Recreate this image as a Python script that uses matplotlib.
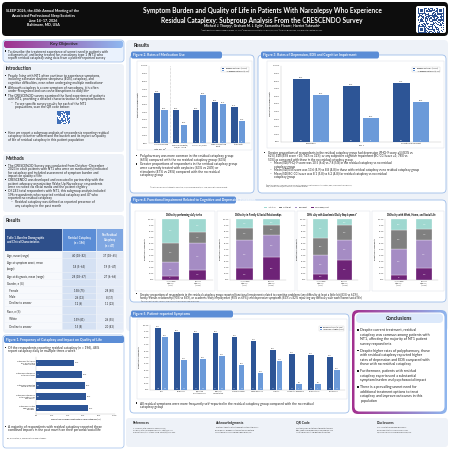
import hashlib

import matplotlib
matplotlib.use("Agg")
import matplotlib.pyplot as plt
import numpy as np
from matplotlib.colors import LinearSegmentedColormap, ListedColormap
from matplotlib.patches import FancyBboxPatch, Rectangle

plt.rcParams['font.family'] = ['Lato', 'DejaVu Sans']

W = H = 450
DARK = "#2d5596"
LIGHT = "#6b9ad9"
BLUE = "#5b8dd6"
PANEL = "#eef2f8"

# ---------------- data ----------------
groups = ["Residual Cataplexy (n=196)", "No Residual Cataplexy (n=47)"]
n_res, n_nores = 196, 47

tab_rows = ["Age, mean (range)", "Age at symptom onset, mean\n(range)", "Age at diagnosis, mean (range)",
            "Gender, n (%)", "   Female", "   Male", "   Decline to answer",
            "Race, n (%)", "   White", "   Decline to answer"]
tab_res = ["40 (18–82)", "18 (5–65)", "28 (18–67)", "", "158 (75)", "26 (13)", "12 (6)",
           "", "159 (81)", "15 (8)"]
tab_nores = ["37 (18–65)", "19 (5–47)", "27 (6–66)", "", "28 (60)", "8 (17)", "11 (23)",
             "", "26 (55)", "20 (43)"]

freq_labels = ["Cataplexy ≥1 time a\nday or multiple\ntimes a week",
               "Cataplexy interfered\nwith daily tasks",
               "Cataplexy impacted\nsocial activities",
               "Cataplexy interfered\nwith relationships\nand family",
               "Cataplexy limited\nwork/school\nactivities"]
freq_vals = [48, 58, 62, 63, 66]

med_labels = ["Any prescribed\ncataplexy Rx$^a$", "Sodium oxybate/\nLXB/ON-SXB", "Any SNRI/SSRI",
              "Wake-promoting\nagent", "Stimulants"]
med_res = [65, 43, 43, 53, 47]
med_nores = [43, 24, 62, 51, 28]

comorb_labels = ["Depression", "EDS$^a$", "Cognitive impairment"]
comorb_res = [83, 74, 78]
comorb_nores = [62, 32, 53]

impair_levels = ["Very much/A lot", "Somewhat", "A little bit", "Not at all"]
impair_colors = ["#6e2377", "#a58cc4", "#808080", "#9fd8d0"]
impair_titles = ["Difficulty performing daily tasks",
                 "Difficulty in Family & Social Relationships",
                 "Difficulty with Academic/Daily Employment$^a$",
                 "Difficulty with Work, Home, and Social Life"]
impair_bars = ["No residual\ncataplexy\n(n=47)", "Residual\ncataplexy\n(n=196)"]
impair_nores = [[7, 22, 32, 39], [19, 46, 21, 14], [10, 31, 28, 31], [9, 42, 31, 18]]
impair_res = [[17, 44, 17, 22], [38, 36, 16, 10], [33, 33, 24, 10], [19, 47, 17, 17]]

sym_labels = ["EDS", "Brain fog", "Disrupted\nnighttime sleep", "Difficulty\nconcentrating",
              "Memory issues", "Sleep paralysis", "Anxiety", "Automatic behaviors",
              "Hallucinations", "Depression"]
sym_res = [96, 89, 87, 87, 81, 75, 62, 55, 54, 51]
sym_nores = [81, 46, 48, 53, 39, 26, 44, 9, 9, 31]

fig = plt.figure(figsize=(4.5, 4.5), dpi=100)
fig.patch.set_facecolor("white")


# ---------------- helpers (pixel coords, origin top-left) ----------------
def box(x0, y0, x1, y1, fc, ec="none", lw=0.5, r=3, z=1):
    p = FancyBboxPatch((x0 / W, 1 - y1 / H), (x1 - x0) / W, (y1 - y0) / H,
                       boxstyle=f"round,pad=0,rounding_size={r / W}",
                       transform=fig.transFigure, fc=fc, ec=ec, lw=lw, zorder=z)
    fig.add_artist(p)
    return p


def txt(x, y, s, size=2.3, color="#222222", weight="normal", ha="left", va="top",
        ls=1.12, z=6):
    return fig.text(x / W, 1 - y / H, s, fontsize=size, color=color, weight=weight,
                    ha=ha, va=va, linespacing=ls, zorder=z)


def lines(x, y, s, size=2.3, pitch=None, **kw):
    # one text per line so the spacing is exact
    pitch = pitch or size * 1.389 * 1.08
    for i, ln in enumerate(s.split("\n")):
        txt(x, y + i * pitch, ln, size=size, **kw)
    return y + pitch * (s.count("\n") + 1)


def bullets(x, y, items, size=2.3, pitch=None, gap=1.5, sq=1.3):
    # items: list of (indent_level, text)
    pitch = pitch or size * 1.389 * 1.08
    for lvl, s in items:
        if lvl == 0:
            top = y + pitch * 0.42 - sq / 2
            fig.add_artist(Rectangle((x / W, 1 - (top + sq) / H), sq / W, sq / H,
                                     transform=fig.transFigure, fc="#222222", ec="none", zorder=6))
            y = lines(x + 3.5, y, s, size, pitch)
        else:
            txt(x + 6, y, "–", size=size)
            y = lines(x + 10, y, s, size, pitch)
        y += gap
    return y


def axes_px(x0, y0, x1, y1, z=4):
    return fig.add_axes([x0 / W, 1 - y1 / H, (x1 - x0) / W, (y1 - y0) / H], zorder=z)


def gradient(x0, y0, x1, y1, c0, c1, r=3, z=2):
    ax = axes_px(x0, y0, x1, y1, z=z)
    cmap = LinearSegmentedColormap.from_list("g", [c0, c1])
    w, h = x1 - x0, y1 - y0
    im = ax.imshow(np.linspace(0, 1, 128)[None, :], aspect="auto", cmap=cmap,
                   extent=(0, w, 0, h))
    clip = FancyBboxPatch((0, 0), w, h, boxstyle=f"round,pad=0,rounding_size={r}",
                          transform=ax.transData, fc="none", ec="none")
    ax.add_patch(clip)
    im.set_clip_path(clip)
    ax.set_xlim(0, w)
    ax.set_ylim(0, h)
    ax.axis("off")
    return ax


def qr(x0, y0, size, seed, color, z=4):
    ax = axes_px(x0, y0, x0 + size, y0 + size, z=z)
    raw = b"".join(hashlib.sha512((seed + str(i)).encode()).digest() for i in range(2))
    bits = np.unpackbits(np.frombuffer(raw, dtype=np.uint8))[:625].reshape(25, 25).astype(float)
    for (r, c) in [(0, 0), (0, 18), (18, 0)]:
        bits[r:r + 7, c:c + 7] = 1
        bits[r + 1:r + 6, c + 1:c + 6] = 0
        bits[r + 2:r + 5, c + 2:c + 5] = 1
    ax.imshow(bits, cmap=ListedColormap(["white", color]), interpolation="nearest")
    ax.axis("off")


def style(ax, fs=1.6):
    for s in ("top", "right"):
        ax.spines[s].set_visible(False)
    for s in ("left", "bottom"):
        ax.spines[s].set_color("#bdbdbd")
        ax.spines[s].set_linewidth(0.3)
    ax.tick_params(labelsize=fs, length=0, pad=0.8, colors="#333333")
    ax.set_facecolor("white")


def pct_axis(ax, top=100):
    ax.set_ylim(0, top)
    ax.set_yticks(range(0, top + 1, 10))
    ax.set_yticklabels([f"{t}.0%" for t in range(0, top + 1, 10)])


def tab(x0, y0, x1, title, size=2.4):
    p = box(x0, y0, x1, y0 + 7, fc=BLUE, r=2, z=3)
    t = txt(x0 + 2, y0 + 3.6, title, size=size, color="white", weight="bold", va="center")
    t.set_clip_path(p)


def grouped(ax, labels, a, b, fs=1.6, w=0.33):
    x = np.arange(len(labels))
    ax.bar(x - w / 2 - 0.03, a, w, color=DARK, zorder=3)
    ax.bar(x + w / 2 + 0.03, b, w, color=LIGHT, zorder=3)
    for xi, va, vb in zip(x, a, b):
        ax.text(xi - w / 2 - 0.03, va + 1.5, f"{va}%", ha="center", va="bottom", fontsize=fs, color="#333")
        ax.text(xi + w / 2 + 0.03, vb + 1.5, f"{vb}%", ha="center", va="bottom", fontsize=fs, color="#333")
        ax.text(xi - w / 2 - 0.03, 1.5, f"{round(n_res * va / 100)}", ha="center", va="bottom",
                fontsize=fs * 0.8, color="white", zorder=4)
        ax.text(xi + w / 2 + 0.03, 1.5, f"{round(n_nores * vb / 100)}", ha="center", va="bottom",
                fontsize=fs * 0.8, color="white", zorder=4)
    ax.set_xticks(x)
    ax.set_xticklabels(labels)
    ax.set_xlim(-0.6, len(labels) - 0.4)
    pct_axis(ax)
    style(ax, fs)
    ax.set_ylabel("Proportion of respondents", fontsize=fs, labelpad=1.5)
    leg = ax.legend(groups, loc="upper right", fontsize=fs * 0.85, frameon=True,
                    handlelength=1.2, handleheight=0.6, borderpad=0.4, labelspacing=0.2)
    leg.get_frame().set_linewidth(0.3)
    leg.get_frame().set_edgecolor("#cccccc")


# ---------------- header ----------------
box(2, 2, 448, 36, fc="#0d0d0d", r=4, z=1)
lines(43, 9, "SLEEP 2026, the 40th Annual Meeting of the\nAssociated Professional Sleep Societies\nJune 14–17, 2026\nBaltimore, MD, USA",
      size=2.6, pitch=4.6, color="white", weight="bold", ha="center")
lines(262, 7.5, "Symptom Burden and Quality of Life in Patients With Narcolepsy Who Experience\nResidual Cataplexy: Subgroup Analysis From the CRESCENDO Survey",
      size=4.7, pitch=9.0, color="white", weight="bold", ha="center")
txt(262, 24.5, "Michael J. Thorpy¹, Graham M. L. Eglit², Samantha Floam³, Harriet Takeuchi³",
    size=2.4, color="white", weight="bold", ha="center")
txt(262, 29, "¹Albert Einstein College of Medicine, Bronx, NY, USA; ²Sleep Research Institute, San Diego, CA, USA; ³Harmony Biosciences, LLC, Plymouth Meeting, PA, USA",
    size=1.3, color="white", ha="center")
box(416, 6, 446, 33, fc="white", r=2, z=2)
qr(418, 7.5, 26, "header", "#2b4f8f")

# ---------------- left column ----------------
box(3, 40, 124, 62, fc="#eaf2fd", ec="#9dbde9", lw=0.5, r=3)
gradient(4, 40.5, 123, 48, "#a0318f", "#8fb8f0", r=2.5)
txt(63.5, 44.3, "Key Objective", size=3.2, weight="bold", ha="center", va="center", z=7)
bullets(5, 49.5, [(0, "To describe the treatment experience of unmet need in patients with\na diagnosis of, and being treated for, narcolepsy type 1 (NT1) who\nreport residual cataplexy using data from a patient-reported survey")],
        size=2.35, pitch=3.4)

box(3, 64, 124, 152, fc=PANEL, r=3)
txt(6, 66.5, "Introduction", size=3.4, weight="bold")
yy = bullets(5, 74, [
    (0, "People living with NT1 often continue to experience symptoms,\nincluding excessive daytime sleepiness (EDS), cataplexy, and\ncognitive difficulties, even when undergoing multiple medications¹"),
    (0, "Although cataplexy is a core symptom of narcolepsy, it is often\nunder-recognized and can cause disruptions to daily life²"),
    (0, "The CRESCENDO survey examined the lived experience of patients\nwith NT1, providing a detailed characterization of symptom burden"),
    (1, "To see specific survey results for each of the NT1\npopulations, scan the QR code below:"),
], size=2.35, pitch=3.45, gap=1.2)
qr(57, yy + 1.5, 13, "intro", "#3f6fb8")
bullets(5, 131, [
    (0, "Here we report a subgroup analysis of respondents reporting residual\ncataplexy to better understand the burden and its impact on quality\nof life of residual cataplexy in this patient population"),
], size=2.35, pitch=3.45)

box(3, 154, 124, 212, fc=PANEL, r=3)
txt(6, 156, "Methods", size=3.4, weight="bold")
bullets(5, 164, [
    (0, "The CRESCENDO Survey was conducted from October–December\n2023 in adult patients with NT1 who were on medication(s) indicated\nfor cataplexy and included assessment of symptom burden and\nimpact on quality of life"),
    (0, "CRESCENDO was developed and executed in partnership with the\npatient advocacy organization Wake Up Narcolepsy; respondents\nwere recruited via social media and the patient registry"),
    (0, "Of 243 total respondents with NT1, this subgroup analysis included\n196 respondents who reported residual cataplexy and 47 who\nreported no residual cataplexy"),
    (1, "Residual cataplexy was defined as reported presence of\nany cataplexy in the past month"),
], size=2.35, pitch=3.35, gap=0.9)

box(3, 215, 124, 333, fc=PANEL, r=3)
txt(6, 217.5, "Results", size=3.4, weight="bold")

# table 1
cx = [5, 62, 96, 123]
box(cx[0], 229, cx[1], 251, fc="#2e4f8a", r=0, z=2)
box(cx[1] + 0.6, 229, cx[2], 251, fc="#5b8dd6", r=0, z=2)
box(cx[2] + 0.6, 229, cx[3], 251, fc="#7fa7e2", r=0, z=2)
txt(7, 240, "Table 1. Baseline Demographic\nand Clinical Characteristics", size=2.0, color="white", weight="bold", va="center", ls=1.3)
txt((cx[1] + cx[2]) / 2, 240, "Residual Cataplexy\n(n = 196)", size=2.0, color="white", weight="bold", ha="center", va="center", ls=1.3)
txt((cx[2] + cx[3]) / 2, 240, "No Residual\nCataplexy\n(n = 47)", size=2.0, color="white", weight="bold", ha="center", va="center", ls=1.3)
row_y = [(252, 259), (259, 273), (273, 280), (280, 287), (287, 294), (294, 300),
         (300, 307), (307, 315), (315, 323), (323, 330)]
for (y0, y1), lab, va, vb in zip(row_y, tab_rows, tab_res, tab_nores):
    box(cx[0], y0, cx[1], y1 - 0.5, fc="#f7f9fc", r=0, z=2)
    box(cx[1] + 0.6, y0, cx[2], y1 - 0.5, fc="#d5e1f3", r=0, z=2)
    box(cx[2] + 0.6, y0, cx[3], y1 - 0.5, fc="#e4ebf7", r=0, z=2)
    yc = (y0 + y1) / 2
    txt(7, yc, lab, size=2.0, va="center", ls=1.4)
    txt((cx[1] + cx[2]) / 2, yc, va, size=2.0, ha="center", va="center")
    txt((cx[2] + cx[3]) / 2, yc, vb, size=2.0, ha="center", va="center")

# figure 1
box(3, 335, 124, 448, fc="white", ec="#9dbde9", lw=0.5, r=3)
tab(4, 336, 124, "Figure 1. Frequency of Cataplexy and Impact on Quality of Life")
bullets(5, 346, [(0, "Of the respondents reporting residual cataplexy (n = 196), 48%\nreport cataplexy daily or multiple times a week")], size=2.3, pitch=3.4)
ax1 = axes_px(36, 357, 115, 414)
yb = np.arange(len(freq_vals))
ax1.barh(yb, freq_vals, 0.6, color=DARK, zorder=3)
for yi, v in zip(yb, freq_vals):
    ax1.text(v + 1.5, yi, f"{v}%", va="center", fontsize=1.5, color="#333")
    ax1.text(1.5, yi, f"{round(n_res * v / 100)}", va="center", fontsize=1.2, color="white", zorder=4)
ax1.set_yticks(yb)
ax1.set_yticklabels(freq_labels)
ax1.invert_yaxis()
ax1.set_xlim(0, 100)
ax1.set_xticks(range(0, 101, 20))
ax1.set_xticklabels([f"{t}%" for t in range(0, 101, 20)])
style(ax1, 1.5)
ax1.set_xlabel("Proportion of respondents with residual cataplexy (%)", fontsize=1.5, labelpad=1.5)
bullets(5, 425, [(0, "A majority of respondents with residual cataplexy reported these\ncombined impacts in the past month on their personal/social life")], size=2.3, pitch=3.4)
txt(7, 437, "Rx, prescription; n, number with residual cataplexy.", size=1.3, color="#444")

# ---------------- results panel ----------------
box(126, 40, 448, 331, fc=PANEL, r=4)
txt(134, 43, "Results", size=3.6, weight="bold")

# figure 2
box(130, 55, 254, 193, fc="white", ec="#9dbde9", lw=0.6, r=4)
tab(131, 51.5, 222, "Figure 2. Rates of Medication Use")
box(137, 61, 252, 150, fc="white", ec="#d5dce6", lw=0.3, r=0, z=2)
ax2 = axes_px(149, 66, 250, 143)
grouped(ax2, med_labels, med_res, med_nores, fs=1.5)
ax2.axvline(0.5, ls=(0, (1, 1.5)), color="#999999", lw=0.4)
bullets(136, 154, [
    (0, "Polypharmacy was more common in the residual cataplexy group\n(65%) compared with the no residual cataplexy group (43%)"),
    (0, "Greater proportions of respondents in the residual cataplexy group\nwere currently treated with oxybates (43% vs 24%) or\nstimulants (47% vs 28%) compared with the no residual\ncataplexy group"),
], size=2.3, pitch=3.5)
txt(150, 186, "ᵃAt least one prescribed anticataplectic medication; LXB, low-sodium oxybate; ON-SXB, once-nightly sodium oxybate.",
    size=1.1, color="#444")

# figure 3
box(258, 55, 446, 193, fc="white", ec="#9dbde9", lw=0.6, r=4)
tab(261, 51.5, 379, "Figure 3. Rates of Depression, EDS and Cognitive Impairment")
box(267, 61, 444, 148, fc="white", ec="#d5dce6", lw=0.3, r=0, z=2)
ax3 = axes_px(281, 66, 441, 142)
grouped(ax3, comorb_labels, comorb_res, comorb_nores, fs=1.5)
bullets(264, 151, [
    (0, "Greater proportions of respondents in the residual cataplexy group had depression (PHQ-9 score ≥5) (83% vs\n62%), EDS (ESS score >10; 74% vs 32%), or any subjective cognitive impairment (BC-CCI score ≥1; 78% vs\n53%) as compared with those in the no residual cataplexy group"),
    (1, "Mean (SD) PHQ-9 score was 10.5 (6.4) vs 7.8 (5.8) in the residual cataplexy vs no residual\ncataplexy group"),
    (1, "Mean (SD) ESS score was 13.6 (4.9) vs 8.8 (4.8) in those with residual cataplexy vs no residual cataplexy group"),
    (1, "Mean (SD) BC-CCI score was 8.1 (5.8) vs 6.2 (4.8) for residual cataplexy vs no residual\ncataplexy group"),
], size=2.2, pitch=3.3, gap=0.4)
lines(266, 183.5, "ᵃEpworth Sleepiness Scale score >10. BC-CCI, British Columbia Cognitive Complaints Inventory; EDS, excessive daytime sleepiness;\nPHQ-9, Patient Health Questionnaire-9; SD, standard deviation.",
      size=1.1, pitch=2.0, color="#444")

# figure 4
box(130, 200, 446, 302, fc="white", ec="#9dbde9", lw=0.6, r=4)
tab(131, 196.5, 236, "Figure 4. Functional Impairment Related to Cognitive and Depressive Symptoms")
leg_ax = axes_px(248, 205, 345, 210, z=5)
leg_ax.axis("off")
handles = [Rectangle((0, 0), 1, 1, fc=c, ec="none") for c in impair_colors[::-1]]
leg_ax.legend(handles, impair_levels[::-1], loc="center", ncol=4, fontsize=1.4, frameon=False,
              handlelength=1.2, handleheight=0.7, columnspacing=2.0, borderpad=0)
panel_x = [(135, 215), (217, 295), (297, 370), (372, 444)]
axes_x = [(155, 213), (230, 286), (307, 358), (385, 438)]
for k in range(4):
    px0, px1 = panel_x[k]
    box(px0, 211, px1, 291, fc="white", ec="#d5dce6", lw=0.3, r=0, z=2)
    ax = axes_px(axes_x[k][0], 219, axes_x[k][1], 280)
    bottoms = np.zeros(2)
    for j in range(4):
        vals = np.array([impair_nores[k][j], impair_res[k][j]])
        ax.bar([0, 1], vals, 0.62, bottom=bottoms, color=impair_colors[j],
               edgecolor="white", lw=0.2, zorder=3)
        for xi in (0, 1):
            ax.text(xi, bottoms[xi] + vals[xi] / 2, f"{vals[xi]}%", ha="center", va="center",
                    fontsize=1.3, color="white", zorder=4)
        bottoms += vals
    ax.set_xticks([0, 1])
    ax.set_xticklabels(impair_bars)
    ax.set_xlim(-0.55, 1.55)
    pct_axis(ax)
    style(ax, 1.4)
    ax.set_ylabel("Proportion of respondents", fontsize=1.4, labelpad=1.2)
    ax.set_title(impair_titles[k], fontsize=1.8, weight="bold", pad=2.5)
bullets(136, 292.5, [
    (0, "Greater proportions of respondents in the residual cataplexy group reported functional impairment related to cognitive problems (any difficulty at least a little bit [83% vs 61%]),\nfamily/friends relationship (90% vs 86%), or academic/daily employment [90% vs 69%]) and depressive symptoms (83% vs 82% reporting any difficulty with work/home/social life)"),
], size=1.95, pitch=3.0)
txt(141, 299.5, "ᵃFor respondents currently employed; n varies across items based on responses provided.", size=1.1, color="#444")

# figure 5
box(130, 314, 349, 413, fc="white", ec="#9dbde9", lw=0.6, r=4)
tab(131, 310.5, 233, "Figure 5. Patient-reported Symptoms")
box(137, 319, 347, 399, fc="white", ec="#d5dce6", lw=0.3, r=0, z=2)
ax5 = axes_px(150, 325, 345, 390)
grouped(ax5, sym_labels, sym_res, sym_nores, fs=1.4, w=0.3)
bullets(136, 401.5, [
    (0, "All residual symptoms were more frequently self-reported in the residual cataplexy group compared with the no residual\ncataplexy group"),
], size=2.3, pitch=3.4)

# conclusions
gradient(352, 310, 447, 414, "#a3308f", "#8fb8f0", r=6, z=2)
box(354.5, 312.5, 444.5, 411.5, fc="white", r=5, z=3)
box(356, 313.5, 443, 323, fc="#dce9fb", r=4, z=3)
txt(399.5, 318.5, "Conclusions", size=3.6, weight="bold", ha="center", va="center", z=7)
bullets(357, 328, [
    (0, "Despite current treatment, residual\ncataplexy was common among patients with\nNT1, affecting the majority of NT1 patient\nsurvey respondents"),
    (0, "Despite higher rates of polypharmacy, those\nwith residual cataplexy reported higher\nrates of depression and EDS compared with\nthose with no residual cataplexy"),
    (0, "Furthermore, patients with residual\ncataplexy experienced a substantial\nsymptom burden and psychosocial impact"),
    (0, "There is a prevailing unmet need for\nadditional treatment options to treat\ncataplexy and improve outcomes in this\npopulation"),
], size=2.6, pitch=4.6, gap=2.2, sq=1.6)

# footer
box(126, 418, 448, 447, fc=PANEL, r=3)
foot = [
    (133, "References", "1. Thorpy MJ, et al. Sleep Med. 2024;113:1-8.\n2. Maski K, et al. J Clin Sleep Med. 2017;13(3):419-425.\n3. Bassetti CLA, et al. Nat Rev Neurol. 2019;15(9):519-539."),
    (215, "Acknowledgments", "The authors thank the patients who participated in the survey\nand Wake Up Narcolepsy for their partnership. Editorial\nsupport was provided by Harmony Biosciences, LLC."),
    (296, "QR Code", "Scan the QR code on the top of this poster to access\nhttps://www.harmonybiosciences.com/CRESCENDO\nfor full survey results and additional information."),
    (377, "Disclosures", "MJT: consultant for Harmony Biosciences.\nGMLE: consultant for Harmony Biosciences.\nSF, HT: employees of Harmony Biosciences, LLC."),
]
for fxp, head, body in foot:
    txt(fxp, 421, head, size=2.4, weight="bold")
    lines(fxp, 427, body, size=1.15, pitch=2.3, color="#333")

fig.savefig("out.png", dpi=100, facecolor="white")
